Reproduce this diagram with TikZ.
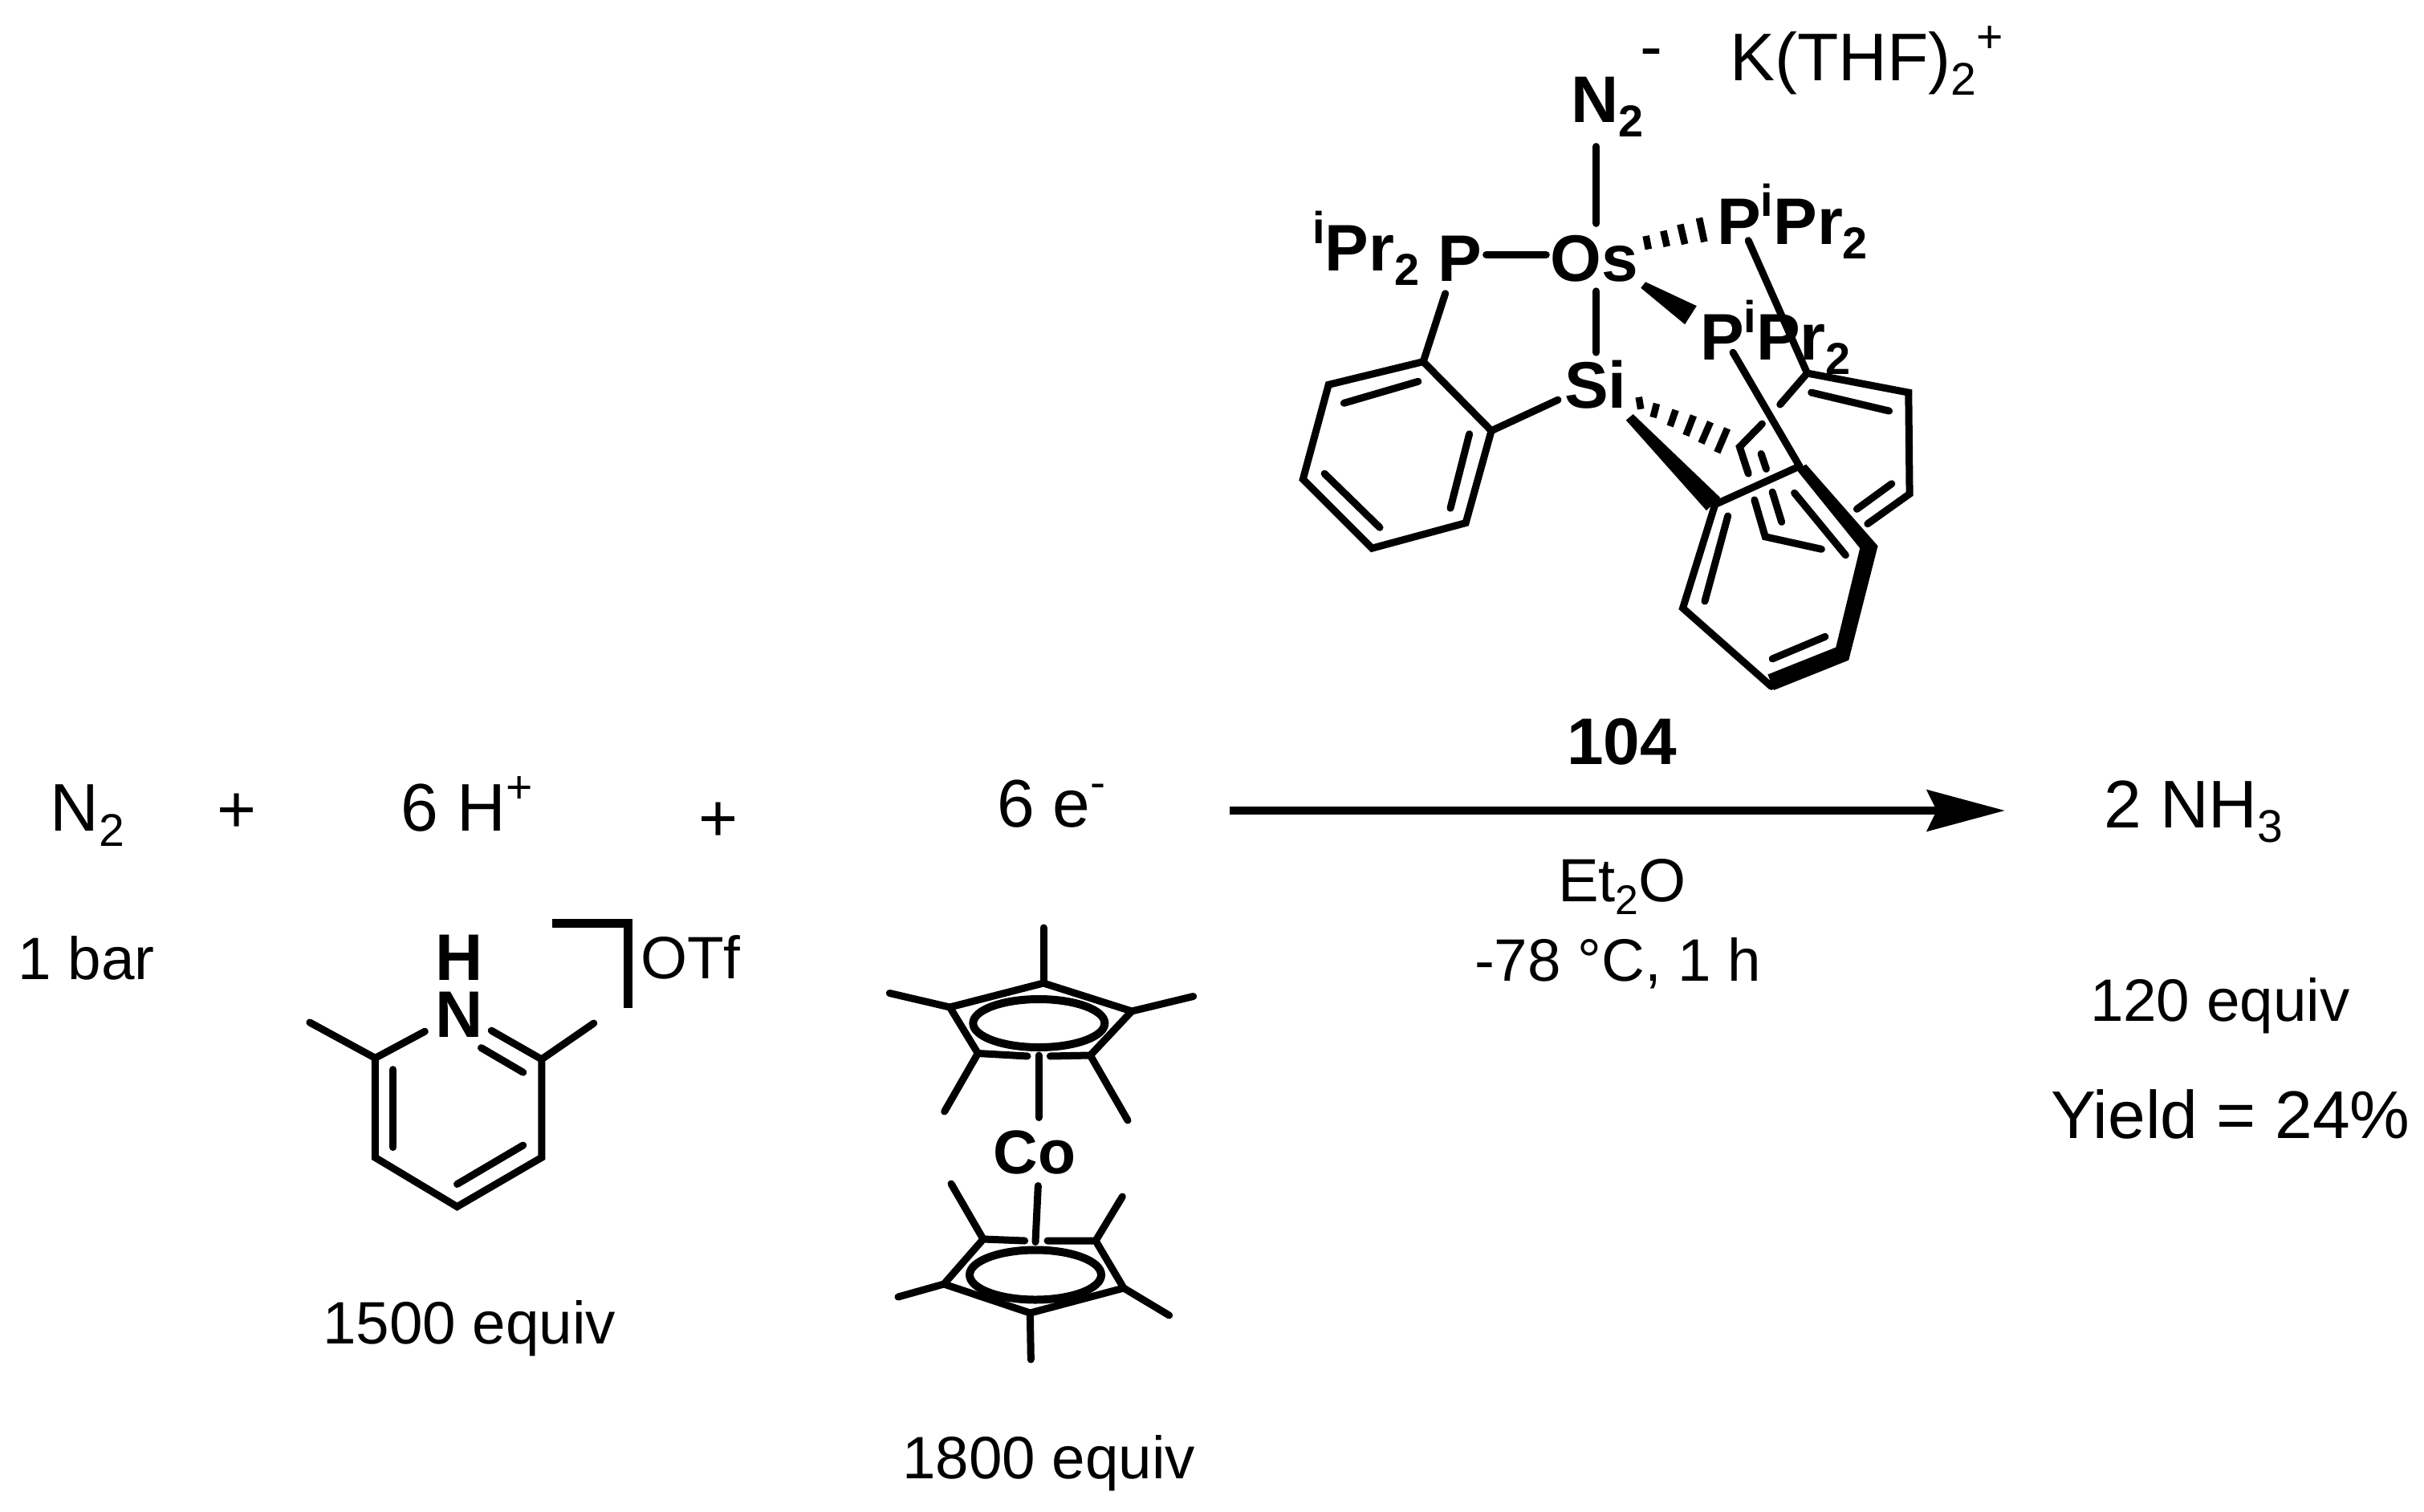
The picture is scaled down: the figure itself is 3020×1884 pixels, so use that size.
\documentclass[tikz,border=0pt]{standalone}
\usepackage{fontspec}
\setmainfont{Liberation Sans}
\usetikzlibrary{arrows.meta}
\newcommand{\lo}[1]{\raisebox{-.22em}{\scalebox{.68}{#1}}}
\newcommand{\hi}[1]{\raisebox{.42em}{\scalebox{.68}{#1}}}
\tikzset{
  bond/.style={line width=4.5pt,line cap=round,line join=miter,black},
  heavy/.style={line width=5.2pt,line cap=butt,line join=miter,black},
  hash/.style={line width=4.3pt,line cap=butt,black},
  solid wedge/.style={fill=black,draw=none},
  txt/.style={inner sep=0pt,outer sep=0pt,anchor=base west,text=black,xshift=-2pt},
  big/.style={txt,font=\fontsize{42}{48}\selectfont},
  small/.style={txt,font=\fontsize{37.3}{44}\selectfont},
  atom/.style={txt,font=\fontsize{41}{46}\selectfont\bfseries},
  rxn/.style={line width=5pt,black,-{Stealth[length=48.5pt,width=25.5pt,inset=6pt]}}
}
\begin{document}
\begin{tikzpicture}[x=0.5pt,y=-0.5pt]
\useasboundingbox[fill=white] (0,0) rectangle (3020,1884);

% ---------- osmium complex ----------
\begin{scope}[shift={(1550,0)},x=0.31888pt,y=-0.28703pt]
  \node[atom] (n2) at (645,265) {N\lo{2}};
  \node[big] (minus) at (780,150) {-};
  \node[big] (kthf) at (955,175) {K(THF)\lo{2}\hi{+}};
  \node[atom] (ipra) at (140,588) {\hi{i}Pr\lo{2}};
  \node[atom] (pa) at (385,610) {P};
  \node[atom] (os) at (605,610) {Os};
  \node[atom] (pb) at (930,530) {P\hi{i}Pr\lo{2}};
  \node[atom] (pc) at (897,782) {P\hi{i}Pr\lo{2}};
  \node[atom] (si) at (632,885) {Si};

  \coordinate (n2b) at (688,318); \coordinate (osn) at (688,485);
  \coordinate (pao) at (473,553); \coordinate (osp) at (590,553);
  \coordinate (oss) at (688,632); \coordinate (sio) at (688,765);
  \draw[bond] (n2b)--(osn);
  \draw[bond] (pao)--(osp);
  \draw[bond] (oss)--(sio);

  % left aryl ring
  \coordinate (paa) at (393,637); \coordinate (siw) at (613,868);
  \coordinate (a1) at (350,785); \coordinate (a2) at (165,835);
  \coordinate (a3) at (115,1040); \coordinate (a4) at (250,1190);
  \coordinate (a5) at (433,1135); \coordinate (a6) at (483,935);
  \coordinate (ai1) at (340,828); \coordinate (ai2) at (195,875);
  \coordinate (ai3) at (157,1028); \coordinate (ai4) at (265,1145);
  \coordinate (ai5) at (403,1103); \coordinate (ai6) at (440,942);
  \draw[bond] (paa)--(a1);
  \draw[bond] (a1)--(a2)--(a3)--(a4)--(a5)--(a6)--cycle;
  \draw[bond] (ai1)--(ai2);
  \draw[bond] (ai3)--(ai4);
  \draw[bond] (ai5)--(ai6);
  \draw[bond] (a6)--(siw);

  % wedge Os to lower P
  \fill[solid wedge] (775,625)--(784,612)--(884,664)--(861,704)--cycle;
  % hashed Os to upper P
  \draw[hash] (785,512)--(790,541);
  \draw[hash] (819,501)--(826,535);
  \draw[hash] (852,487)--(861,530);
  \draw[hash] (889,473)--(899,525);
  % hashed Si to back ring
  \draw[hash] (771,862)--(775,888);
  \draw[hash] (806,876)--(799,906);
  \draw[hash] (843,890)--(832,925);
  \draw[hash] (878,902)--(863,945);
  \draw[hash] (911,916)--(893,962);
  \draw[hash] (944,930)--(924,982);
  % bold wedge Si to front ring
  \fill[solid wedge] (746,912)--(760,899)--(930,1080)--(903,1108)--cycle;

  % back ring
  \coordinate (pbr) at (985,522); \coordinate (b1) at (1100,810);
  \coordinate (b2) at (1298,852); \coordinate (b3) at (1300,1072);
  \coordinate (b3e) at (1218,1137); \coordinate (b1e) at (1047,878);
  \coordinate (bi1) at (1108,852); \coordinate (bi2) at (1260,892);
  \coordinate (bi3) at (1197,1105); \coordinate (bi4) at (1265,1050);
  \coordinate (b6e) at (1012,920); \coordinate (b6) at (968,970);
  \coordinate (b6f) at (985,1028); \coordinate (b5s) at (997,1085);
  \coordinate (b5) at (1018,1165); \coordinate (b4e) at (1128,1192);
  \coordinate (bi5) at (1010,985); \coordinate (bi6) at (1020,1018);
  \coordinate (bi7) at (1032,1068); \coordinate (bi8) at (1050,1133);
  \draw[bond] (pbr)--(b1);
  \draw[bond] (b1e)--(b1)--(b2)--(b3)--(b3e);
  \draw[bond] (bi1)--(bi2);
  \draw[bond] (bi3)--(bi4);
  \draw[bond] (b6e)--(b6)--(b6f);
  \draw[bond] (b5s)--(b5)--(b4e);
  \draw[bond] (bi5)--(bi6);
  \draw[bond] (bi7)--(bi8);

  % front ring
  \coordinate (pcr) at (955,765); \coordinate (c1) at (1085,1012);
  \coordinate (c2) at (920,1095); \coordinate (c3) at (857,1320);
  \coordinate (c4) at (1030,1490);
  \coordinate (ci1) at (945,1120); \coordinate (ci2) at (900,1305);
  \coordinate (ci3) at (1032,1430); \coordinate (ci4) at (1135,1382);
  \coordinate (ci5) at (1075,1070); \coordinate (ci6) at (1175,1205);
  \draw[bond] (pcr)--(c1);
  \draw[bond] (c1)--(c2)--(c3)--(c4);
  \draw[bond] (ci1)--(ci2);
  \draw[bond] (ci3)--(ci4);
  \draw[bond] (ci5)--(ci6);
  \fill[solid wedge] (1098,1008)--(1238,1185)--(1181,1433)--(1035,1498)
     --(1023,1464)--(1156,1405)--(1203,1190)--(1078,1018)--cycle;
\end{scope}

% ---------- left side ----------
\begin{scope}[shift={(0,950)},x=0.31888pt,y=-0.2551pt]
  \node[big] (n2r) at (105,168) {N\lo{2}};
  \node[big,anchor=base,xshift=2pt] (plusa) at (462,172) {+};
  \node[big] (hplus) at (790,168) {6 H\hi{+}};
  \node[big,anchor=base,xshift=2pt] (plusb) at (1403,194) {+};
  \node[small] (bar) at (42,530) {1 bar};
  \node[atom] (h) at (857,532) {H};
  \node[atom] (n) at (857,672) {N};
  \node[small] (otf) at (1258,528) {OTf};
  \node[small] (eqa) at (637,1420) {1500 equiv};

  \coordinate (p1) at (733,722); \coordinate (p1n) at (830,657);
  \coordinate (m1) at (605,635); \coordinate (p2) at (733,965);
  \coordinate (p3) at (893,1085); \coordinate (p4) at (1058,965);
  \coordinate (p5) at (1058,725); \coordinate (p5n) at (960,655);
  \coordinate (m2) at (1160,637);
  \coordinate (pi1) at (940,697); \coordinate (pi2) at (1022,757);
  \coordinate (pi3) at (768,750); \coordinate (pi4) at (768,940);
  \coordinate (pi5) at (893,1030); \coordinate (pi6) at (1022,935);
  \draw[bond] (p1n)--(p1)--(p2)--(p3)--(p4)--(p5)--(p5n);
  \draw[bond] (m1)--(p1);
  \draw[bond] (p5)--(m2);
  \draw[bond] (pi1)--(pi2);
  \draw[bond] (pi3)--(pi4);
  \draw[bond] (pi5)--(pi6);
  \coordinate (br1) at (1078,393); \coordinate (br2) at (1227,393); \coordinate (br3) at (1227,600);
  \draw[heavy] (br1)--(br2)--(br3);
\end{scope}

% ---------- decamethylcobaltocene ----------
\begin{scope}[shift={(1050,1100)},x=0.16667pt,y=-0.25pt]
  \node[atom,font=\fontsize{38.5}{44}\selectfont\bfseries] (co) at (575,725) {Co};
  \node[small] (eqb) at (235,1485) {1800 equiv};

  \coordinate (t1) at (750,250); \coordinate (t2) at (1080,320);
  \coordinate (t3) at (925,430); \coordinate (t3e) at (775,432);
  \coordinate (t4e) at (690,432); \coordinate (t4) at (505,425);
  \coordinate (t5) at (400,310); \coordinate (tc) at (733,350);
  \draw[bond] (t3e)--(t3)--(t2)--(t1)--(t5)--(t4)--(t4e);
  \draw[line width=5pt,black] (tc) ellipse [x radius=41pt,y radius=15pt];
  \coordinate (tm1) at (750,112); \coordinate (tm2) at (1310,283);
  \coordinate (tm3) at (1065,592); \coordinate (tm4) at (380,570);
  \coordinate (tm5) at (175,275); \coordinate (tca) at (732,430); \coordinate (tcb) at (732,585);
  \draw[bond] (t1)--(tm1);
  \draw[bond] (t2)--(tm2);
  \draw[bond] (t3)--(tm3);
  \draw[bond] (t4)--(tm4);
  \draw[bond] (t5)--(tm5);
  \draw[bond] (tca)--(tcb);

  \coordinate (u1) at (525,888); \coordinate (u1e) at (680,892);
  \coordinate (u2e) at (765,892); \coordinate (u2) at (945,892);
  \coordinate (u3) at (1050,1010); \coordinate (u4) at (700,1072);
  \coordinate (u5) at (378,1000); \coordinate (uc) at (720,977);
  \draw[bond] (u1e)--(u1)--(u5)--(u4)--(u3)--(u2)--(u2e);
  \draw[line width=5pt,black] (uc) ellipse [x radius=41pt,y radius=15.5pt];
  \coordinate (um1) at (405,750); \coordinate (um2) at (1045,782);
  \coordinate (um3) at (1220,1078); \coordinate (um4) at (703,1188);
  \coordinate (um5) at (207,1032); \coordinate (uca) at (720,895); \coordinate (ucb) at (730,755);
  \draw[bond] (u1)--(um1);
  \draw[bond] (u2)--(um2);
  \draw[bond] (u3)--(um3);
  \draw[bond] (u4)--(um4);
  \draw[bond] (u5)--(um5);
  \draw[bond] (uca)--(ucb);
\end{scope}

% ---------- reaction arrow and labels ----------
\node[big] (elec) at (1246,1030) {6 e\hi{-}};
\node[atom] (num) at (1956,952) {104};
\node[small,font=\fontsize{38}{44}\selectfont] (et) at (1945,1123) {Et\lo{2}O};
\node[small] (cond) at (1841,1222) {-78 °C, 1 h};
\coordinate (arrs) at (1532,1010);
\coordinate (arre) at (2498,1010);
\draw[rxn] (arrs)--(arre);
\node[big] (nh3) at (2625,1031) {2 NH\lo{3}};
\node[small] (eqc) at (2608,1272) {120 equiv};
\node[big] (yield) at (2559,1418) {Yield = 24\%};
\end{tikzpicture}
\end{document}
